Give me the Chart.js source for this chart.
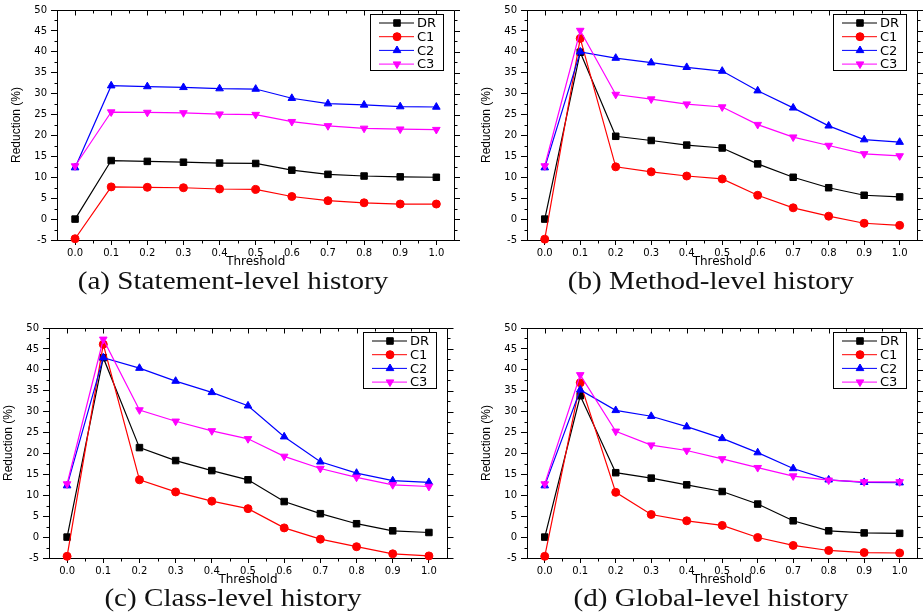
<!DOCTYPE html>
<html>
<head>
<meta charset="utf-8">
<script src="https://cdn.jsdelivr.net/npm/chart.js@4.4.0/dist/chart.umd.min.js"></script>
<style>
  body { margin: 0; background: #fff; width: 923px; height: 616px; overflow: hidden; position: relative; }
  canvas { position: absolute; }
  .cap { position: absolute; font-family: "Liberation Serif", serif; font-size: 26px; color: #111;
         white-space: nowrap; transform: translate(-50%, -50%) scaleX(1.12); }
</style>
</head>
<body>
<canvas id="cA" width="460" height="269" style="left:0;top:0"></canvas>
<canvas id="cB" width="463" height="269" style="left:460px;top:0"></canvas>
<canvas id="cC" width="460" height="269" style="left:0;top:318px"></canvas>
<canvas id="cD" width="463" height="269" style="left:460px;top:318px"></canvas>
<div class="cap" style="left:233px;top:281px">(a) Statement-level history</div>
<div class="cap" style="left:711px;top:281px">(b) Method-level history</div>
<div class="cap" style="left:233px;top:598px">(c) Class-level history</div>
<div class="cap" style="left:711px;top:598px">(d) Global-level history</div>
<script>
const thresholds = [0.0, 0.1, 0.2, 0.3, 0.4, 0.5, 0.6, 0.7, 0.8, 0.9, 1.0];
const xMajor = [0.0, 0.1, 0.2, 0.3, 0.4, 0.5, 0.6, 0.7, 0.8, 0.9, 1.0];
const xMinor = [0.05, 0.15, 0.25, 0.35, 0.45, 0.55, 0.65, 0.75, 0.85, 0.95];
const yMajor = [-5, 0, 5, 10, 15, 20, 25, 30, 35, 40, 45, 50];
const yMinor = [-2.5, 2.5, 7.5, 12.5, 17.5, 22.5, 27.5, 32.5, 37.5, 42.5, 47.5];

const seriesNames = ['DR', 'C1', 'C2', 'C3'];

// (a) statement-level
const stmtDR = [0, 14.0, 13.8, 13.6, 13.4, 13.3, 11.7, 10.7, 10.3, 10.1, 10.0];
const stmtC1 = [-4.7, 7.7, 7.6, 7.5, 7.2, 7.1, 5.4, 4.4, 3.9, 3.6, 3.6];
const stmtC2 = [12.3, 31.9, 31.7, 31.5, 31.2, 31.1, 28.9, 27.6, 27.3, 26.9, 26.8];
const stmtC3 = [12.7, 25.6, 25.5, 25.4, 25.1, 25.0, 23.3, 22.3, 21.7, 21.5, 21.4];
// (b) method-level
const methDR = [0, 39.9, 19.8, 18.8, 17.7, 17.0, 13.2, 10.0, 7.5, 5.7, 5.3];
const methC1 = [-4.8, 43.2, 12.5, 11.3, 10.3, 9.6, 5.7, 2.7, 0.7, -1.0, -1.5];
const methC2 = [12.3, 40.0, 38.5, 37.4, 36.3, 35.4, 30.7, 26.6, 22.3, 19.0, 18.4];
const methC3 = [12.7, 45.1, 29.8, 28.7, 27.5, 26.8, 22.6, 19.6, 17.6, 15.6, 15.1];
// (c) class-level
const classDR = [0, 42.9, 21.4, 18.3, 15.9, 13.7, 8.5, 5.6, 3.2, 1.5, 1.1];
const classC1 = [-4.6, 46.1, 13.7, 10.8, 8.6, 6.8, 2.2, -0.5, -2.3, -4.0, -4.5];
const classC2 = [12.3, 42.9, 40.4, 37.3, 34.6, 31.4, 24.0, 18.0, 15.3, 13.5, 13.1];
const classC3 = [12.7, 47.3, 30.4, 27.7, 25.4, 23.5, 19.3, 16.4, 14.3, 12.5, 12.1];
// (d) global-level
const globDR = [0, 33.8, 15.4, 14.1, 12.5, 10.9, 7.9, 3.9, 1.5, 1.0, 0.9];
const globC1 = [-4.6, 36.9, 10.7, 5.4, 3.9, 2.8, -0.1, -2.0, -3.2, -3.7, -3.8];
const globC2 = [12.3, 35.2, 30.3, 28.9, 26.4, 23.6, 20.2, 16.4, 13.7, 13.1, 13.0];
const globC3 = [12.7, 38.8, 25.3, 22.0, 20.7, 18.7, 16.6, 14.6, 13.6, 13.2, 13.2];

const colors = ['#000000', '#ff0000', '#0000ff', '#ff00ff'];
const markers = ['rect', 'circle', 'triangle', 'triangle'];
const markerRot = [0, 0, 0, 180];
const markerSize = [4.6, 4, 4.4, 4.4];

const px = v => Math.round(v) + 0.5;

// frame, minor ticks and the boxed legend
const framePlugin = {
  id: 'frame',
  afterDraw(chart) {
    const { ctx, chartArea: a, scales: { x, y } } = chart;
    ctx.save();
    ctx.strokeStyle = '#000';
    ctx.lineWidth = 1;
    ctx.beginPath();
    ctx.moveTo(px(a.left), px(a.top)); ctx.lineTo(px(a.right), px(a.top));
    ctx.moveTo(px(a.right), px(a.top)); ctx.lineTo(px(a.right), px(a.bottom));
    yMajor.forEach(v => { const p = px(y.getPixelForValue(v)); ctx.moveTo(px(a.right), p); ctx.lineTo(px(a.right) + 6, p); });
    yMinor.forEach(v => {
      const p = px(y.getPixelForValue(v));
      ctx.moveTo(px(a.left) - 3, p); ctx.lineTo(px(a.left), p);
      ctx.moveTo(px(a.right), p); ctx.lineTo(px(a.right) + 3, p);
    });
    xMajor.forEach(v => { const p = px(x.getPixelForValue(v)); ctx.moveTo(p, px(a.top)); ctx.lineTo(p, px(a.top) + 5); });
    xMinor.forEach(v => {
      const p = px(x.getPixelForValue(v));
      ctx.moveTo(p, px(a.top)); ctx.lineTo(p, px(a.top) + 3);
      ctx.moveTo(p, px(a.bottom)); ctx.lineTo(p, px(a.bottom) + 3);
    });
    ctx.stroke();

    // legend
    const bw = 73, bh = 56;
    const bx = Math.round(a.right) - 11 - bw, by = Math.round(a.top) + 4;
    ctx.fillStyle = '#fff';
    ctx.fillRect(bx, by, bw, bh);
    ctx.strokeRect(bx + 0.5, by + 0.5, bw, bh);
    ctx.font = '13px "DejaVu Sans"';
    ctx.textBaseline = 'middle';
    chart.data.datasets.forEach((ds, i) => {
      const ry = by + 9 + i * 13.7;
      ctx.strokeStyle = ds.borderColor;
      ctx.fillStyle = ds.borderColor;
      ctx.beginPath();
      ctx.moveTo(bx + 9, ry); ctx.lineTo(bx + 44, ry);
      ctx.stroke();
      Chart.helpers.drawPoint(ctx, { pointStyle: ds.pointStyle, rotation: ds.pointRotation, radius: ds.pointRadius, borderWidth: 1 }, bx + 27, ry);
      ctx.fillStyle = '#000';
      ctx.fillText(ds.label, bx + 47, ry + 1);
    });
    ctx.restore();
  }
};

function makePanel(id, values, plotLeft, padRight) {
  const datasets = seriesNames.map((name, i) => ({
    label: name,
    data: thresholds.map((t, k) => ({ x: t, y: values[i][k] })),
    borderColor: colors[i],
    backgroundColor: colors[i],
    borderWidth: 1.2,
    pointStyle: markers[i],
    pointRotation: markerRot[i],
    pointRadius: markerSize[i],
    pointBorderWidth: 1,
    tension: 0,
    clip: false,
    order: 4 - i
  }));
  return new Chart(document.getElementById(id), {
    type: 'line',
    data: { datasets },
    options: {
      responsive: false,
      animation: false,
      layout: { padding: { left: 0, right: padRight, top: 9, bottom: 0 } },
      plugins: { legend: { display: false }, tooltip: { enabled: false } },
      scales: {
        x: {
          type: 'linear', min: -0.05, max: 1.05,
          afterBuildTicks: s => { s.ticks = xMajor.map(v => ({ value: v })); },
          afterFit: s => { s.height = 29; },
          ticks: { callback: v => v.toFixed(1), font: { family: 'DejaVu Sans', size: 10 }, color: '#000', padding: 2, maxRotation: 0, autoSkip: false },
          grid: { drawOnChartArea: false, tickLength: 5, color: '#000' },
          border: { color: '#000', width: 1 },
          title: { display: true, text: 'Threshold', font: { family: 'DejaVu Sans', size: 12 }, color: '#000', padding: { top: 0, bottom: 0 } }
        },
        y: {
          min: -5, max: 50,
          afterBuildTicks: s => { s.ticks = yMajor.map(v => ({ value: v })); },
          afterFit: s => { s.width = plotLeft; },
          ticks: { font: { family: 'DejaVu Sans', size: 10 }, color: '#000', padding: 4 },
          grid: { drawOnChartArea: false, tickLength: 6, color: '#000' },
          border: { color: '#000', width: 1 },
          title: { display: true, text: 'Reduction (%)', font: { family: 'Liberation Sans', size: 12 }, color: '#000', padding: { top: plotLeft - 48, bottom: 0 } }
        }
      }
    },
    plugins: [framePlugin]
  });
}

makePanel('cA', [stmtDR, stmtC1, stmtC2, stmtC3], 57, 5);
makePanel('cB', [methDR, methC1, methC2, methC3], 67, 1);
makePanel('cC', [classDR, classC1, classC2, classC3], 49, 13);
makePanel('cD', [globDR, globC1, globC2, globC3], 67, 1);
</script>
</body>
</html>
